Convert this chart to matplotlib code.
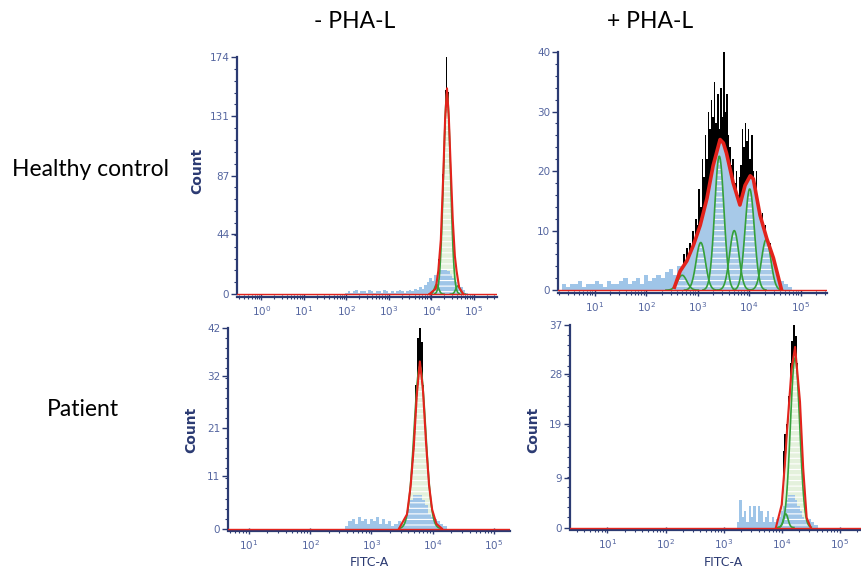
import numpy as np
import matplotlib
matplotlib.use("Agg")
import matplotlib.pyplot as plt
from matplotlib.ticker import FixedLocator, NullFormatter

plt.rcParams['font.family'] = ['DejaVu Sans']
plt.rcParams['hatch.linewidth'] = 0.8

# ---- data (x in log10 FITC-A units) ----
# healthy control, - PHA-L
tl_start, tl_step = 4.06, 0.03
tl_counts = [2, 4, 8, 15, 26, 40, 62, 88, 118, 150, 174, 148, 118, 92, 70, 48, 30, 19, 11, 6, 3, 1]
tl_deb_start, tl_deb_step = 2.00, 0.06
tl_debris = [1, 2, 1, 2, 3, 1, 2, 2, 1, 3, 2, 1, 2, 2, 1, 3, 2, 1, 2, 1, 2, 3, 2, 1,
             2, 3, 2, 4, 3, 5, 4, 7, 9, 12, 10, 14, 16, 18, 18, 18, 17, 15, 12, 9, 7, 5, 3, 1]
tl_fit_x = [3.95, 4.10, 4.16, 4.22, 4.28, 4.32, 4.365, 4.41, 4.45, 4.50, 4.55, 4.59, 4.65, 4.75]
tl_fit_y = [0, 4, 17, 40, 90, 128, 151, 128, 95, 55, 28, 17, 5, 0]
tl_peak_pos = [4.12, 4.365, 4.62]
tl_peak_h = [7, 148, 6]
tl_peak_w = [0.05, 0.082, 0.05]

# healthy control, + PHA-L
tr_start, tr_step = 2.55, 0.03
tr_counts = [2, 1, 3, 2, 4, 3, 6, 4, 7, 5, 8, 6, 10, 8, 12, 11, 17, 14, 22, 19, 26, 22,
             30, 27, 32, 29, 35, 28, 33, 27, 34, 29, 40, 30, 33, 26, 24, 21, 22, 18, 20,
             16, 19, 21, 27, 24, 28, 25, 27, 22, 26, 20, 18, 20, 15, 14, 12, 13, 10, 11,
             8, 7, 8, 5, 6, 4, 3, 2, 1]
tr_deb_start, tr_deb_step = 0.40, 0.08
tr_debris = [1, 0.5, 1, 1, 1.5, 0.5, 1, 1, 1.5, 1, 0.5, 1.5, 1, 1, 1.5, 2, 1, 1.5, 2, 1,
             2.5, 1.5, 2, 2.5, 2, 3, 3.5, 2.5, 4, 3,
             0, 0, 0, 0, 0, 0, 0, 0, 0, 0, 0, 0, 0, 0, 0, 0, 0, 0, 0, 0, 0, 0,
             2, 1.5, 1, 0.5]
tr_fit_x = [2.55, 2.66, 2.79, 2.92, 3.05, 3.18, 3.30, 3.435, 3.50, 3.56, 3.69, 3.82,
            3.92, 4.02, 4.08, 4.21, 4.34, 4.47, 4.535, 4.62]
tr_fit_y = [0.5, 3.2, 4.9, 7.6, 10.9, 15.4, 20.9, 25.3, 24.7, 23, 18, 14.3,
            17.6, 19.2, 18.7, 12.6, 8.7, 5.4, 3.2, 0.3]
tr_peak_pos = [2.70, 3.06, 3.42, 3.71, 4.01, 4.33]
tr_peak_h = [2.5, 8, 22.5, 10, 17, 8.5]
tr_peak_w = [0.09, 0.09, 0.09, 0.09, 0.09, 0.09]

# patient, - PHA-L
bl_start, bl_step = 3.55, 0.03
bl_counts = [1, 3, 5, 9, 14, 20, 30, 40, 42, 39, 30, 20, 13, 8, 5, 3, 1]
bl_deb_start, bl_deb_step = 2.60, 0.05
bl_debris = [0.5, 1.5, 2, 1, 2.5, 1.5, 2, 1, 2, 1.5, 2.5, 1, 2, 1, 1.5, 0.5, 1, 1.5, 1, 2,
             4, 6, 7, 7, 7, 6, 5, 3, 2.5, 2, 1.5, 1, 0.5]
bl_fit_x = [3.45, 3.58, 3.64, 3.69, 3.74, 3.79, 3.84, 3.89, 3.94, 3.99, 4.06, 4.15]
bl_fit_y = [0, 3, 9, 17, 28, 35, 29, 18, 9, 4, 1, 0]
bl_peak_pos = [3.79]
bl_peak_h = [34]
bl_peak_w = [0.095]

# patient, + PHA-L
br_start, br_step = 3.97, 0.03
br_counts = [2, 5, 14, 17, 19, 24, 30, 34, 37, 35, 30, 24, 16, 10, 5, 2]
br_deb_start, br_deb_step = 3.25, 0.04
br_debris = [1, 5, 2, 3, 1, 4, 2, 4, 1, 4, 3, 1, 2, 3, 1, 2, 1, 1.5, 2, 3, 4, 5, 6, 6,
             6, 5, 4, 3, 2, 1.5, 1, 1.5, 1, 0.5, 0.5]
br_fit_x = [3.90, 4.00, 4.057, 4.086, 4.17, 4.23, 4.315, 4.37, 4.43, 4.50]
br_fit_y = [0, 4.2, 12, 16.9, 29, 33, 23, 10.8, 1.8, 0]
br_peak_pos = [4.07, 4.23]
br_peak_h = [2.5, 31]
br_peak_w = [0.04, 0.08]

navy = '#2b3a72'
tick_col = '#5566a0'
blue = '#9fc5e8'
red = '#e3231c'
green = '#35a03a'


def bars(ax, start, step, vals, color, z):
    c = start + step * np.arange(len(vals))
    left = 10 ** (c - step / 2)
    width = 10 ** (c + step / 2) - left
    ax.bar(left, vals, width=width, align='edge', color=color, linewidth=0, zorder=z)


def panel(rect, xlim, yticks, first_dec, counts, debris, fit_x, fit_y, peaks,
          under, hatch_col, red_lw):
    ax = fig.add_axes(rect)
    ymax = yticks[-1]
    ax.set_xscale('log')
    ax.set_xlim(10 ** xlim[0], 10 ** xlim[1])
    ax.set_ylim(-0.012 * ymax, ymax)

    bars(ax, *counts, 'black', 1)
    fx = 10 ** np.array(fit_x)
    ax.fill_between(fx, 0, fit_y, color=under, linewidth=0, zorder=2)
    bars(ax, *debris, blue, 3)
    for pos, h, w in zip(*peaks):
        g = np.linspace(pos - 3.5 * w, pos + 3.5 * w, 80)
        gy = h * np.exp(-0.5 * ((g - pos) / w) ** 2)
        ax.fill_between(10 ** g, 0, gy, facecolor='none', edgecolor=hatch_col,
                        hatch='---', linewidth=0, zorder=4)
        ax.plot(10 ** g, gy, color=green, lw=1.2, zorder=5)
    ax.plot(fx, fit_y, color=red, lw=red_lw, zorder=6)
    ax.axhline(0, color=red, lw=1.0, zorder=6)

    for s in ['top', 'right']:
        ax.spines[s].set_visible(False)
    for s in ['left', 'bottom']:
        ax.spines[s].set_color(navy)
        ax.spines[s].set_linewidth(1.6)
    ax.spines['left'].set_bounds(0, ymax)

    decs = list(range(first_dec, 6))
    ax.xaxis.set_major_locator(FixedLocator([10.0 ** d for d in decs]))
    ax.set_xticklabels([r'$10^{%d}$' % d for d in decs])
    minors = [k * 10.0 ** d for d in range(-1, 6) for k in range(2, 10)]
    ax.xaxis.set_minor_locator(FixedLocator(minors))
    ax.xaxis.set_minor_formatter(NullFormatter())
    ax.set_yticks(yticks)
    ax.set_yticklabels([str(t) for t in yticks])
    ax.yaxis.set_minor_locator(FixedLocator(np.linspace(0, ymax, 21)))
    ax.tick_params(axis='both', which='major', colors=navy, labelcolor=tick_col,
                   labelsize=7.5, width=1.0)
    ax.tick_params(axis='x', which='major', direction='inout', length=5, pad=3)
    ax.tick_params(axis='x', which='minor', direction='inout', length=3, width=0.8, colors=navy)
    ax.tick_params(axis='y', which='major', direction='out', length=4, pad=1.5)
    ax.tick_params(axis='y', which='minor', direction='out', length=2, width=0.8, colors=navy)
    return ax


fig = plt.figure(figsize=(8.61, 5.68), dpi=100)
W, H = 861.0, 568.0


def rect(x0, x1, ytop, y0):
    return [x0 / W, 1 - y0 / H, (x1 - x0) / W, (y0 - ytop) / H]


ax_tl = panel(rect(237, 497, 57, 297), (-0.57, 5.54), [0, 44, 87, 131, 174], 0,
              (tl_start, tl_step, tl_counts), (tl_deb_start, tl_deb_step, tl_debris),
              tl_fit_x, tl_fit_y, (tl_peak_pos, tl_peak_h, tl_peak_w),
              '#e4f1dc', '#ffffff', 1.5)
ax_tr = panel(rect(558, 827, 52, 293), (0.29, 5.51), [0, 10, 20, 30, 40], 1,
              (tr_start, tr_step, tr_counts), (tr_deb_start, tr_deb_step, tr_debris),
              tr_fit_x, tr_fit_y, (tr_peak_pos, tr_peak_h, tr_peak_w),
              '#a7c9e8', '#ffffff', 2.6)
ax_bl = panel(rect(228, 510, 328, 531), (0.66, 5.26), [0, 11, 21, 32, 42], 1,
              (bl_start, bl_step, bl_counts), (bl_deb_start, bl_deb_step, bl_debris),
              bl_fit_x, bl_fit_y, (bl_peak_pos, bl_peak_h, bl_peak_w),
              '#e4f1dc', '#ffffff', 1.5)
ax_br = panel(rect(570, 861, 325, 530), (0.356, 5.365), [0, 9, 19, 28, 37], 1,
              (br_start, br_step, br_counts), (br_deb_start, br_deb_step, br_debris),
              br_fit_x, br_fit_y, (br_peak_pos, br_peak_h, br_peak_w),
              '#e4f1dc', '#ffffff', 1.5)

for ax, lx, ly in [(ax_tl, -0.125, 0.527), (ax_bl, -0.106, 0.5), (ax_br, -0.103, 0.49)]:
    ax.set_ylabel('Count', color=navy, fontsize=10, fontweight='bold')
    ax.yaxis.set_label_coords(lx, ly)
for ax, lx, ly in [(ax_bl, 0.503, -0.123), (ax_br, 0.526, -0.127)]:
    ax.set_xlabel('FITC-A', color=navy, fontsize=9)
    ax.xaxis.set_label_coords(lx, ly)

big = dict(family=['Lato', 'DejaVu Sans'], fontsize=16.5, color='black',
           ha='center', va='center')
fig.text(355 / W, 1 - 22 / H, '- PHA-L', **big)
fig.text(650 / W, 1 - 22 / H, '+ PHA-L', **big)
fig.text(90 / W, 1 - 170 / H, 'Healthy control', **big)
fig.text(83 / W, 1 - 410 / H, 'Patient', **big)

fig.savefig('out.png', dpi=100)
